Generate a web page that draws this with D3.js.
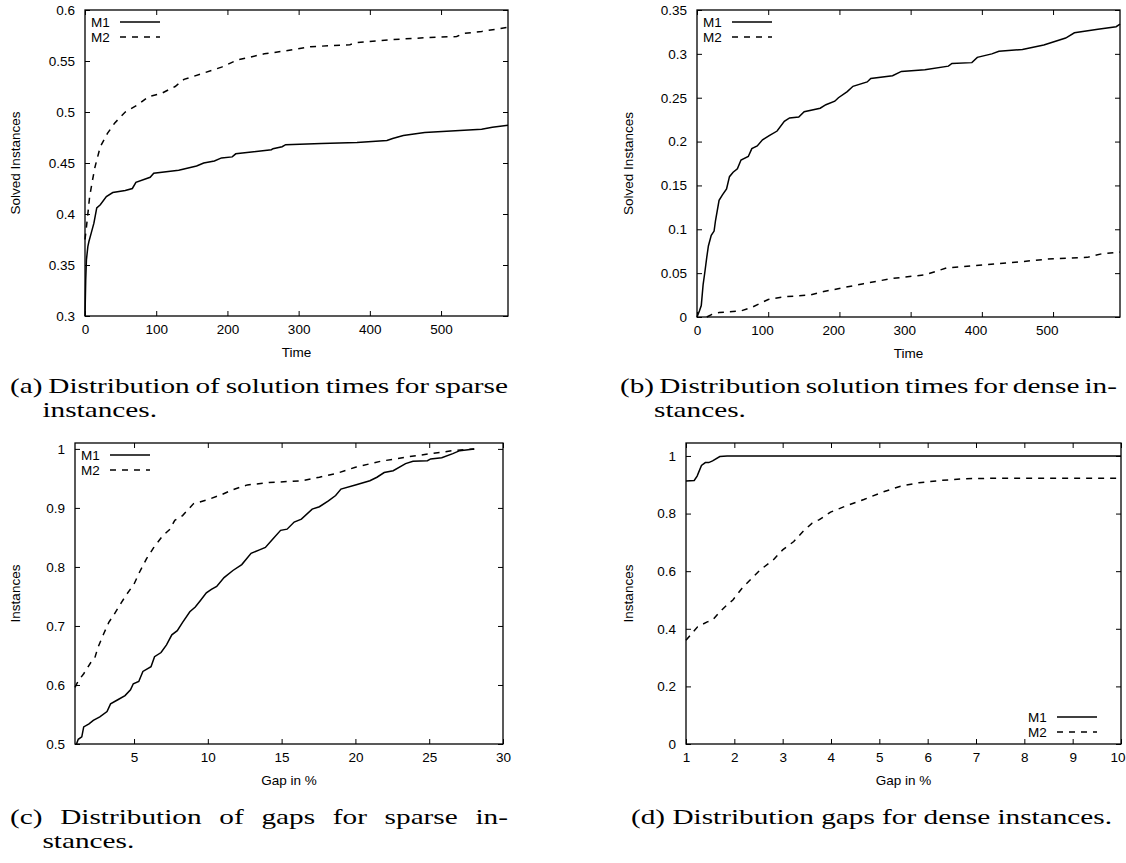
<!DOCTYPE html>
<html>
<head>
<meta charset="utf-8">
<script src="https://cdn.jsdelivr.net/npm/d3@7"></script>
<style>
body { margin: 0; background: #fff; }
svg { display: block; }
.tick text { font-family: "Liberation Sans", Arial, sans-serif; font-size: 13.5px; fill: #000; }
.tick line { stroke: #000; stroke-width: 1; }
</style>
</head>
<body>
<svg id="fig" width="1126" height="863"></svg>
<script>
var seriesNames = ["M1", "M2"];

// (a) solution times, sparse instances
var aM1Time = [0, 1, 2, 4, 5.5, 9, 12.5, 16.5, 21.5, 30, 39, 56.5, 66.5, 71.5, 91.5, 96.5, 131.6, 156.7, 166.7, 181.7,
	191.7, 206.7, 211.7, 261.8, 264, 276.8, 281.8, 331.8, 382, 424, 432, 447, 477, 557, 572, 594];
var aM1 = [0.300, 0.335, 0.355, 0.368, 0.373, 0.382, 0.391, 0.406, 0.409, 0.417, 0.421, 0.423, 0.425, 0.431, 0.436, 0.440, 0.443, 0.447, 0.450, 0.452,
	0.455, 0.456, 0.459, 0.463, 0.464, 0.466, 0.468, 0.469, 0.470, 0.472, 0.474, 0.477, 0.480, 0.483, 0.485, 0.487];
var aM2Time = [0, 1.5, 4, 6.5, 10.5, 14, 21.5, 31.5, 41.5, 56.5, 74, 89, 106.6, 126.6, 139, 161.7, 191.7, 214, 251.8, 281.8,
	316.8, 371.9, 382, 432, 482, 522, 532, 557, 594];
var aM2 = [0.375, 0.384, 0.400, 0.417, 0.433, 0.446, 0.466, 0.479, 0.489, 0.500, 0.507, 0.515, 0.518, 0.525, 0.532, 0.537, 0.544, 0.551, 0.557, 0.560,
	0.564, 0.566, 0.568, 0.571, 0.573, 0.574, 0.577, 0.579, 0.583];

// (b) solution times, dense instances
var bM1Time = [0, 3.5, 6, 8.6, 11, 13.7, 16, 20, 24, 26, 31, 35.5, 41.5, 45.6, 50.7, 56.7, 61.8, 72, 77, 84.6,
	92, 102, 112.5, 122.6, 130, 142.9, 150.5, 173, 181, 193.5, 198.6, 211, 219, 239, 244, 274.6, 287, 320, 353, 358,
	386, 393.6, 414, 424, 457, 487, 517.7, 530, 563, 588.6, 594];
var bM1 = [0, 0.007, 0.013, 0.037, 0.051, 0.068, 0.081, 0.093, 0.098, 0.110, 0.133, 0.139, 0.146, 0.160, 0.165, 0.169, 0.179, 0.183, 0.192, 0.195,
	0.202, 0.207, 0.212, 0.223, 0.227, 0.228, 0.234, 0.238, 0.242, 0.246, 0.250, 0.257, 0.263, 0.268, 0.272, 0.275, 0.280, 0.282, 0.286, 0.289,
	0.290, 0.296, 0.300, 0.303, 0.305, 0.310, 0.318, 0.324, 0.328, 0.331, 0.334];
var bM2Time = [13.7, 21, 31, 62, 77, 100, 122.6, 158, 178, 208.7, 234, 274.6, 320, 350.6, 396, 441.7, 492, 548, 568, 594];
var bM2 = [0, 0.003, 0.005, 0.007, 0.011, 0.020, 0.023, 0.025, 0.029, 0.034, 0.038, 0.044, 0.048, 0.056, 0.059, 0.062, 0.066, 0.068, 0.072, 0.074];

// (c) gaps, sparse instances
var cM1Gap = [1.1, 1.22, 1.46, 1.59, 1.95, 2.24, 2.68, 3.17, 3.41, 3.9, 4.39, 4.76, 4.95, 5.32, 5.6, 6.15, 6.39, 6.83, 7.2, 7.56,
	7.93, 8.29, 8.78, 9.15, 9.5, 9.9, 10.24, 10.6, 11.1, 11.7, 12.3, 12.93, 13.5, 13.9, 14.39, 14.93, 15.37, 15.85, 16.34, 17.07,
	17.56, 18.17, 18.66, 19.02, 20, 20.98, 21.46, 21.95, 22.56, 23.4, 23.9, 24.88, 25.1, 25.85, 26.6, 27.07, 28.05];
var cM1 = [0.5, 0.508, 0.512, 0.529, 0.534, 0.540, 0.546, 0.555, 0.568, 0.575, 0.582, 0.592, 0.602, 0.606, 0.623, 0.631, 0.648, 0.655, 0.668, 0.685,
	0.692, 0.706, 0.724, 0.732, 0.743, 0.756, 0.762, 0.767, 0.782, 0.794, 0.804, 0.823, 0.829, 0.833, 0.847, 0.862, 0.864, 0.876, 0.881, 0.898,
	0.902, 0.912, 0.921, 0.932, 0.939, 0.946, 0.952, 0.960, 0.963, 0.975, 0.979, 0.980, 0.983, 0.985, 0.992, 0.997, 1.0];
var cM2Gap = [1, 1.22, 1.59, 2.07, 2.32, 2.56, 2.93, 3.29, 3.66, 4.15, 4.51, 5, 5.37, 5.85, 6.34, 6.95, 7.44, 7.76, 8.29, 9.02,
	10, 10.98, 11.7, 12.68, 14.15, 16.34, 17.56, 18.78, 20, 21.7, 23.4, 25.1, 26.6, 28.05];
var cM2 = [0.596, 0.607, 0.619, 0.638, 0.644, 0.664, 0.686, 0.706, 0.720, 0.740, 0.754, 0.771, 0.791, 0.814, 0.833, 0.853, 0.864, 0.879, 0.887, 0.907,
	0.914, 0.923, 0.931, 0.939, 0.943, 0.946, 0.952, 0.959, 0.969, 0.979, 0.986, 0.992, 0.997, 1.0];

// (d) gaps, dense instances
var dM1Gap = [1, 1.17, 1.23, 1.32, 1.40, 1.47, 1.55, 1.70, 1.85, 10];
var dM1 = [0.913, 0.915, 0.930, 0.967, 0.977, 0.977, 0.983, 0.998, 1.0, 1.0];
var dM2Gap = [1, 1.09, 1.24, 1.44, 1.55, 1.70, 1.85, 1.97, 2.16, 2.54, 2.81, 3.0, 3.23, 3.42, 3.61, 3.76, 3.99, 4.30, 4.68, 5.06,
	5.44, 5.82, 6.28, 6.74, 7.5, 10];
var dM2 = [0.360, 0.378, 0.407, 0.424, 0.430, 0.459, 0.483, 0.500, 0.541, 0.605, 0.640, 0.674, 0.703, 0.738, 0.767, 0.779, 0.805, 0.826, 0.849, 0.874,
	0.895, 0.907, 0.915, 0.921, 0.923, 0.923];

// ticks
var timeTicks = [0, 100, 200, 300, 400, 500];
var aYTicks = [0.3, 0.35, 0.4, 0.45, 0.5, 0.55, 0.6];
var bYTicks = [0, 0.05, 0.1, 0.15, 0.2, 0.25, 0.3, 0.35];
var cXTicks = [5, 10, 15, 20, 25, 30];
var cYTicks = [0.5, 0.6, 0.7, 0.8, 0.9, 1];
var dXTicks = [1, 2, 3, 4, 5, 6, 7, 8, 9, 10];
var dYTicks = [0, 0.2, 0.4, 0.6, 0.8, 1];

// captions
var captionA = ["(a) Distribution of solution times for sparse", "instances."];
var captionB = ["(b) Distribution solution times for dense in-", "stances."];
var captionC = ["(c) Distribution of gaps for sparse in-", "stances."];
var captionD = ["(d) Distribution gaps for dense instances."];

var svg = d3.select("#fig");
var sans = '"Liberation Sans", Arial, sans-serif';
var serif = '"Liberation Serif", "Times New Roman", serif';
var dashes = [null, "6,6"];
var fmt = d3.format("~g");

var drawPanel = function(p) {
	var x = d3.scaleLinear().domain(p.xDomain).range([p.left, p.right]);
	var y = d3.scaleLinear().domain(p.yDomain).range([p.bottom, p.top]);
	var g = svg.append("g");

	// ticks point inward, mirrored on top and right
	var bottom = g.append("g").attr("transform", "translate(0," + p.bottom + ")")
		.call(d3.axisBottom(x).tickValues(p.xTicks).tickSize(-5).tickPadding(8).tickFormat(fmt));
	var top = g.append("g").attr("transform", "translate(0," + p.top + ")")
		.call(d3.axisTop(x).tickValues(p.xTicks).tickSize(-5).tickFormat(""));
	var left = g.append("g").attr("transform", "translate(" + p.left + ",0)")
		.call(d3.axisLeft(y).tickValues(p.yTicks).tickSize(-5).tickPadding(10).tickFormat(fmt));
	var right = g.append("g").attr("transform", "translate(" + p.right + ",0)")
		.call(d3.axisRight(y).tickValues(p.yTicks).tickSize(-5).tickFormat(""));
	[bottom, top, left, right].forEach(function(a) {
		a.select(".domain").remove();
		a.attr("font-family", null).attr("font-size", null);
	});
	// keep a label that sits on the page edge inside the page
	bottom.selectAll(".tick text").each(function() {
		var b = this.getBBox();
		var over = p.right + b.x + b.width - 1125;
		if (over > 0) d3.select(this).attr("dx", -over);
	});

	var line = d3.line()
		.x(function(d) { return x(d[0]); })
		.y(function(d) { return y(d[1]); });

	p.series.forEach(function(s, i) {
		g.append("path")
			.datum(d3.zip(s[0], s[1]))
			.attr("d", line)
			.attr("fill", "none")
			.attr("stroke", "#000")
			.attr("stroke-width", 1.5)
			.attr("stroke-dasharray", dashes[i]);
	});

	g.append("rect")
		.attr("x", p.left).attr("y", p.top)
		.attr("width", p.right - p.left).attr("height", p.bottom - p.top)
		.attr("fill", "none").attr("stroke", "#000").attr("stroke-width", 1.3);

	// legend
	seriesNames.forEach(function(name, i) {
		var cy, tx, sx;
		if (p.legend == "bottomRight") {
			cy = p.bottom - 27 + i * 15;
			tx = p.right - 93;
			sx = p.right - 64;
		} else {
			cy = p.top + 12 + i * 15;
			tx = p.left + 6;
			sx = p.left + 35;
		}
		g.append("text").text(name)
			.attr("x", tx).attr("y", cy).attr("dy", "0.36em")
			.attr("font-family", sans).attr("font-size", 13.5);
		g.append("line")
			.attr("x1", sx).attr("x2", sx + 40).attr("y1", cy).attr("y2", cy)
			.attr("stroke", "#000").attr("stroke-width", 1.5)
			.attr("stroke-dasharray", dashes[i]);
	});

	g.append("text").text(p.xTitle)
		.attr("x", (p.left + p.right) / 2).attr("y", p.bottom + 41)
		.attr("text-anchor", "middle")
		.attr("font-family", sans).attr("font-size", 13.5);
	g.append("text").text(p.yTitle)
		.attr("transform", "translate(" + p.yTitleX + "," + (p.top + p.bottom) / 2 + ") rotate(-90)")
		.attr("dy", "0.35em")
		.attr("text-anchor", "middle")
		.attr("font-family", sans).attr("font-size", 13.5);
};

drawPanel({
	left: 85, right: 508, top: 10, bottom: 316,
	xDomain: [0, 594], yDomain: [0.3, 0.6],
	xTicks: timeTicks, yTicks: aYTicks,
	series: [[aM1Time, aM1], [aM2Time, aM2]],
	xTitle: "Time", yTitle: "Solved Instances", yTitleX: 15,
	legend: "topLeft"
});
drawPanel({
	left: 697, right: 1120, top: 10, bottom: 317,
	xDomain: [0, 594], yDomain: [0, 0.35],
	xTicks: timeTicks, yTicks: bYTicks,
	series: [[bM1Time, bM1], [bM2Time, bM2]],
	xTitle: "Time", yTitle: "Solved Instances", yTitleX: 628,
	legend: "topLeft"
});
drawPanel({
	left: 75, right: 503, top: 443, bottom: 744,
	xDomain: [1, 30], yDomain: [0.5, 1.01],
	xTicks: cXTicks, yTicks: cYTicks,
	series: [[cM1Gap, cM1], [cM2Gap, cM2]],
	xTitle: "Gap in %", yTitle: "Instances", yTitleX: 15,
	legend: "topLeft"
});
drawPanel({
	left: 686, right: 1121, top: 443, bottom: 744,
	xDomain: [1, 10], yDomain: [0, 1.045],
	xTicks: dXTicks, yTicks: dYTicks,
	series: [[dM1Gap, dM1], [dM2Gap, dM2]],
	xTitle: "Gap in %", yTitle: "Instances", yTitleX: 628,
	legend: "bottomRight"
});

// captions, set in a serif face stretched to the width of the original lines
var capSize = 22;
var capG = svg.append("g").attr("font-family", serif).attr("font-size", capSize).attr("fill", "#000");
var natural = function(t) {
	var n = capG.append("text").text(t);
	var w = n.node().getComputedTextLength();
	n.remove();
	return w;
};
var stretch = 481 / natural(captionD[0]);

var putLine = function(t, x, yb) {
	capG.append("text").text(t)
		.attr("x", x).attr("y", yb)
		.attr("textLength", natural(t) * stretch)
		.attr("lengthAdjust", "spacingAndGlyphs");
};
var putJustified = function(t, x0, x1, yb) {
	var words = t.split(" ");
	var widths = words.map(function(w) { return natural(w) * stretch; });
	var gap = (x1 - x0 - d3.sum(widths)) / (words.length - 1);
	var x = x0;
	words.forEach(function(w, i) {
		capG.append("text").text(w)
			.attr("x", x).attr("y", yb)
			.attr("textLength", widths[i])
			.attr("lengthAdjust", "spacingAndGlyphs");
		x += widths[i] + gap;
	});
};
var caption = function(lines, x0, x1, yb, justify) {
	var indent = natural(lines[0].split(" ")[0] + " ") * stretch;
	if (justify) putJustified(lines[0], x0, x1, yb);
	else putLine(lines[0], x0, yb);
	if (lines.length > 1) putLine(lines[1], x0 + indent, yb + 24);
};

caption(captionA, 10, 508, 393, true);
caption(captionB, 620, 1117, 393, true);
caption(captionC, 10, 508, 824, true);
caption(captionD, 631, 1112, 824, false);
</script>
</body>
</html>
